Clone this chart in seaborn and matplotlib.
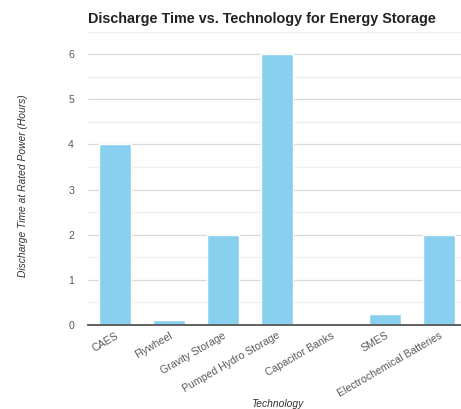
import matplotlib
matplotlib.use("Agg")
import matplotlib.pyplot as plt
from matplotlib.ticker import MultipleLocator
import seaborn as sns
import pandas as pd

technologies = ["CAES", "Flywheel", "Gravity Storage", "Pumped Hydro Storage",
                "Capacitor Banks", "SMES", "Electrochemical Batteries"]
discharge_hours = [4, 0.1, 2, 6, 0.01, 0.25, 2]

df = pd.DataFrame({"Technology": technologies, "Hours": discharge_hours})

sns.set_theme(style="white")
plt.rcParams["font.family"] = ["Liberation Sans", "DejaVu Sans"]

fig = plt.figure(figsize=(4.61, 4.09), dpi=100)
ax = fig.add_axes([88 / 461, 1 - 325 / 409, 378 / 461, (325 - 31.5) / 409])

sns.barplot(data=df, x="Technology", y="Hours", color="#89CFEE",
            width=0.61, saturation=1, ax=ax, zorder=3)

ax.set_ylim(0, 6.5)
ax.set_xlim(-0.5, len(technologies) - 0.5)
ax.yaxis.set_major_locator(MultipleLocator(1))
ax.yaxis.set_minor_locator(MultipleLocator(0.5))
ax.grid(axis="y", which="major", color="#d9d9d9", linewidth=0.9, zorder=0)
ax.grid(axis="y", which="minor", color="#eeeeee", linewidth=0.9, zorder=0)
ax.set_axisbelow(True)

for side in ["top", "right", "left"]:
    ax.spines[side].set_visible(False)
ax.spines["bottom"].set_color("#555555")
ax.spines["bottom"].set_linewidth(1.3)
ax.spines["bottom"].set_zorder(4)

ax.tick_params(axis="both", which="both", length=0, colors="#5a5a5a", labelsize=7.6)
ax.tick_params(axis="y", pad=10)
ax.tick_params(axis="x", pad=4)
for lbl in ax.get_xticklabels():
    lbl.set_rotation(30)
    lbl.set_ha("right")
    lbl.set_rotation_mode("anchor")

ax.set_xlabel("Technology", fontsize=7.4, style="italic", color="#333333", labelpad=0)
ax.set_ylabel("Discharge Time at Rated Power (Hours)", fontsize=7.4, style="italic",
              color="#333333")
ax.yaxis.set_label_coords(-0.16, 0.474)
ax.set_title("Discharge Time vs. Technology for Energy Storage", loc="left",
             fontsize=10.4, fontweight="bold", color="#222222", pad=6)

fig.savefig("out.png", dpi=100)
